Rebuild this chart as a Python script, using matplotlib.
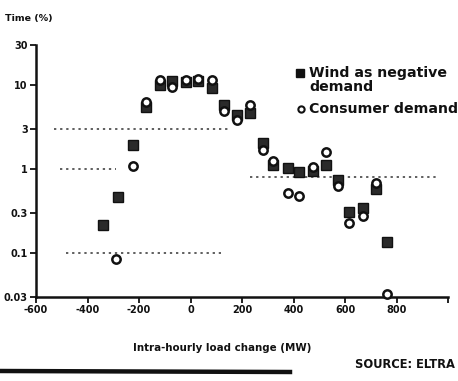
import matplotlib
matplotlib.use("Agg")
import matplotlib.pyplot as plt
import matplotlib.ticker as mticker
from matplotlib.lines import Line2D

OUT_FILE = "out.png"

# ── Data ─────────────────────────────────────────────────────────────────
wind_x = [-338, -283, -225, -171, -120, -70, -19, 31, 85, 132, 179, 233,
          280, 322, 377, 423, 474, 528, 571, 617, 668, 722, 765]
wind_y = [0.215, 0.46, 1.93, 5.5, 10.0, 11.2, 11.0, 11.2, 9.2, 5.8, 4.4, 4.6,
          2.04, 1.12, 1.03, 0.92, 0.95, 1.12, 0.74, 0.31, 0.34, 0.58, 0.135]

consumer_x = [-291, -225, -171, -120, -70, -19, 31, 85, 132, 179, 233,
              280, 322, 377, 423, 474, 528, 571, 617, 668, 722, 765]
consumer_y = [0.085, 1.09, 6.3, 11.5, 9.5, 11.4, 11.8, 11.5, 4.9, 3.8, 5.8,
              1.68, 1.25, 0.52, 0.48, 1.06, 1.6, 0.63, 0.23, 0.28, 0.68, 0.033]

# faint dotted reference levels (broken up in the scan)
ref_level = [3, 1, 0.8, 0.1]
ref_start = [-530, -505, 230, -485]
ref_end   = [150, -290, 960, 120]

y_ticks  = [0.03, 0.1, 0.3, 1, 3, 10, 30]
y_labels = ["0.03", "0.1", "0.3", "1", "3", "10", "30"]
x_ticks  = [-600, -400, -200, 0, 200, 400, 600, 800, 1000]
x_labels = ["-600", "-400", "-200", "0", "200", "400", "600", "800", ""]

FONT = "DejaVu Sans"
INK  = "#111111"


def main():
    W, H = 458, 381
    fig = plt.figure(figsize=(W / 100, H / 100), dpi=100)
    fig.patch.set_facecolor("white")

    # axes box in pixels: x 36..448, y 45..297 (from top)
    ax = fig.add_axes([36 / W, (H - 297) / H, 412 / W, 252 / H])
    ax.set_facecolor("white")

    # ── reference dotted lines ────────────────────────────────────────────
    ax.hlines(ref_level, ref_start, ref_end, colors="#333333",
              linewidth=1.1, linestyles=(0, (1.5, 2.5)), zorder=1)

    # ── markers ───────────────────────────────────────────────────────────
    ax.plot(wind_x, wind_y, linestyle="none", marker="s", markersize=7,
            markerfacecolor="#2a2a2a", markeredgecolor=INK,
            markeredgewidth=1.0, zorder=3, clip_on=False)
    ax.plot(consumer_x, consumer_y, linestyle="none", marker="o",
            markersize=6, markerfacecolor="white", markeredgecolor=INK,
            markeredgewidth=1.8, zorder=4, clip_on=False)

    # ── axes ──────────────────────────────────────────────────────────────
    ax.set_yscale("log")
    ax.set_ylim(0.03, 30)
    ax.set_xlim(-600, 1000)
    ax.yaxis.set_major_locator(mticker.FixedLocator(y_ticks))
    ax.yaxis.set_major_formatter(mticker.FixedFormatter(y_labels))
    ax.yaxis.set_minor_locator(mticker.NullLocator())
    ax.set_xticks(x_ticks)
    ax.set_xticklabels(x_labels)

    ax.spines[["top", "right"]].set_visible(False)
    for side in ("left", "bottom"):
        ax.spines[side].set_linewidth(1.8)
        ax.spines[side].set_color(INK)

    ax.tick_params(axis="both", direction="out", length=4, width=1.3,
                   color=INK, labelsize=7, labelcolor=INK, pad=2)
    for lab in ax.get_xticklabels() + ax.get_yticklabels():
        lab.set_fontweight("bold")
        lab.set_family(FONT)

    # ── texts ─────────────────────────────────────────────────────────────
    fig.text(5 / W, 1 - 18 / H, "Time (%)", fontsize=6.8, fontweight="bold",
             family=FONT, color=INK, va="center", ha="left")
    fig.text(222 / W, 1 - 348 / H, "Intra-hourly load change (MW)",
             fontsize=7.4, fontweight="bold", family=FONT, color=INK,
             va="center", ha="center")
    fig.text(355 / W, 1 - 365 / H, "SOURCE: ELTRA", fontsize=8.3,
             fontweight="bold", family=FONT, color=INK, va="center",
             ha="left")

    # ── legend drawn by hand ──────────────────────────────────────────────
    leg_size = 10.2
    fig.add_artist(Line2D([300 / W], [1 - 73 / H], marker="s", markersize=5.5,
                          markerfacecolor=INK, markeredgecolor=INK,
                          transform=fig.transFigure))
    fig.text(309 / W, 1 - 73 / H, "Wind as negative", fontsize=leg_size,
             fontweight="bold", family=FONT, color=INK, va="center")
    fig.text(309 / W, 1 - 87 / H, "demand", fontsize=leg_size,
             fontweight="bold", family=FONT, color=INK, va="center")
    fig.add_artist(Line2D([301 / W], [1 - 109 / H], marker="o", markersize=4.5,
                          markerfacecolor="white", markeredgecolor=INK,
                          markeredgewidth=1.5, transform=fig.transFigure))
    fig.text(309 / W, 1 - 109 / H, "Consumer demand", fontsize=leg_size,
             fontweight="bold", family=FONT, color=INK, va="center")

    # thick rule along the bottom of the clipping
    fig.add_artist(Line2D([0, 290 / W], [1 - 371 / H, 1 - 372 / H],
                          color=INK, linewidth=3.2,
                          transform=fig.transFigure))

    fig.savefig(OUT_FILE, dpi=100)


if __name__ == "__main__":
    main()
